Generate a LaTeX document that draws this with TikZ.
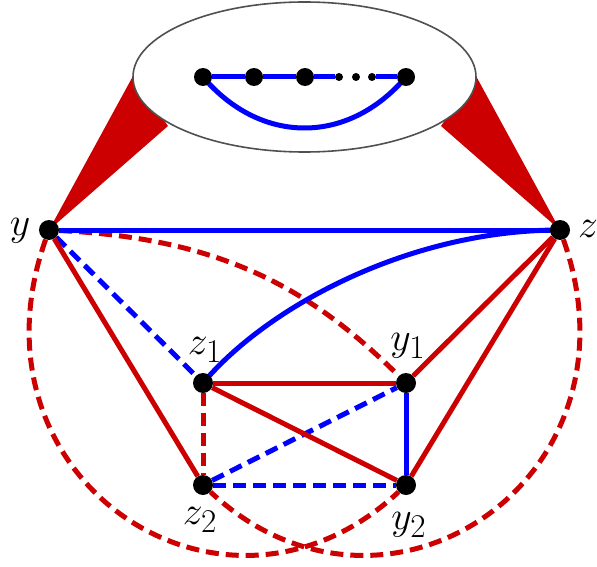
\documentclass[tikz,border=0pt]{standalone}
\usepackage{graphicx}
\usetikzlibrary{backgrounds}
\definecolor{myred}{RGB}{204,0,0}
\definecolor{myblue}{RGB}{0,0,255}
\definecolor{rimgray}{RGB}{80,80,80}
\newcommand{\biglbl}[1]{\scalebox{1.6}{\fontsize{24.88}{28}\selectfont$#1$}}
\begin{document}
\begin{tikzpicture}[x=1pt,y=-1pt,
 dot/.style={circle,fill=black,inner sep=0pt,minimum size=20pt},
 sdot/.style={circle,fill=black,inner sep=0pt,minimum size=18pt},
 tdot/.style={circle,fill=black,inner sep=0pt,minimum size=8pt},
 redline/.style={myred,line width=5pt},
 blueline/.style={myblue,line width=5pt},
 reddash/.style={myred,line width=5pt,dash pattern=on 13pt off 7pt},
 bluedash/.style={myblue,line width=5pt,dash pattern=on 13pt off 7pt},
 lbl/.style={inner sep=0pt}]
\useasboundingbox (0,0) rectangle (597,567);
% main vertices
\node[dot] (y)  at (49,230) {};
\node[dot] (z)  at (560,230) {};
\node[dot] (z1) at (203,383) {};
\node[dot] (y1) at (406,383) {};
\node[dot] (z2) at (203,485) {};
\node[dot] (y2) at (406,485) {};
% inner vertices
\node[sdot] (a1) at (203,77) {};
\node[sdot] (a2) at (254,77) {};
\node[sdot] (a3) at (305,77) {};
\node[sdot] (a4) at (406,77) {};
\node[tdot] (d1) at (339,77) {};
\node[tdot] (d2) at (356,77) {};
\node[tdot] (d3) at (372,77) {};
% labels
\node[lbl] (ly)  at (20,231) {\biglbl{y}};
\node[lbl] (lz)  at (588,229) {\biglbl{z}};
\node[lbl] (lz1) at (205,350) {\biglbl{z_1}};
\node[lbl] (ly1) at (408,346) {\biglbl{y_1}};
\node[lbl] (lz2) at (200,520) {\biglbl{z_2}};
\node[lbl] (ly2) at (409,525) {\biglbl{y_2}};
\begin{pgfonlayer}{background}
% wedges
\fill[myred] (y.center) -- (133,76) -- (168,126) -- cycle;
\fill[myred] (z.center) -- (476,76) -- (441,126) -- cycle;
% ellipse
\draw[fill=white,draw=rimgray,line width=1.6pt] (304.5,77) ellipse [x radius=171.5, y radius=75];
% inner graph
\draw[blueline] (a1) -- (a2) -- (a3) -- (d1);
\draw[blueline] (d3) -- (a4);
\draw[blueline] (a1.center) .. controls (261,145) and (348,145) .. (a4.center);
% dashed red arcs
\draw[reddash] (y) .. controls (219,238.5) and (308,286) .. (y1);
\draw[reddash] (y) .. controls (-39.5,480) and (223.5,655) .. (y2);
\draw[reddash] (z) .. controls (648.5,480) and (385.5,655) .. (z2);
% blue edges
\draw[blueline] (y) -- (z);
\draw[blueline] (z.center) .. controls (410,230) and (268,306) .. (z1.center);
\draw[blueline] (y1) -- (y2);
\draw[bluedash] (y) -- (z1);
\draw[bluedash] (z2) -- (y2);
\draw[bluedash] (z2) -- (y1);
% red edges
\draw[redline] (y) -- (z2);
\draw[redline] (z) -- (y1);
\draw[redline] (z) -- (y2);
\draw[redline] (z1) -- (y1);
\draw[redline] (z1) -- (y2);
\draw[reddash] (z1) -- (z2);
\end{pgfonlayer}
\end{tikzpicture}
\end{document}
